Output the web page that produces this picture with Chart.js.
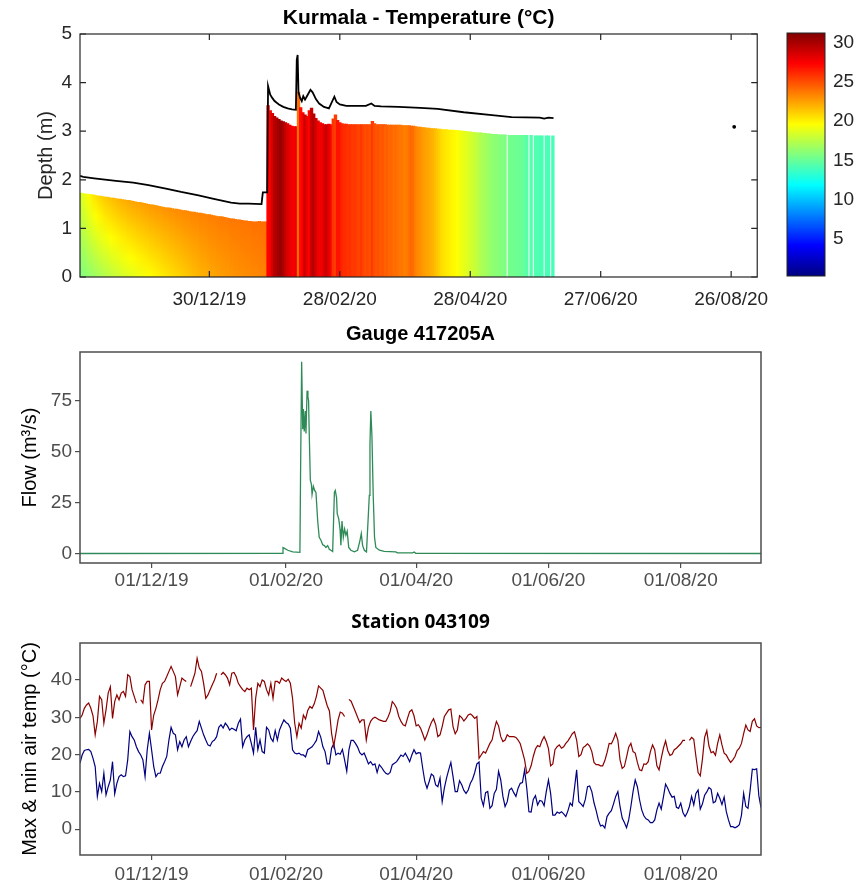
<!DOCTYPE html>
<html>
<head>
<meta charset="utf-8">
<script src="https://cdn.jsdelivr.net/npm/chart.js@4.4.1/dist/chart.umd.min.js"></script>
<style>
  body { margin: 0; background: #fff; }
  #wrap { position: relative; width: 867px; height: 886px; }
  canvas { position: absolute; }
</style>
</head>
<body>
<div id="wrap">
  <canvas id="tempChart" width="780" height="310" style="left:0;top:0"></canvas>
  <canvas id="cbarChart" width="87" height="310" style="left:780px;top:0"></canvas>
  <canvas id="flowChart" width="867" height="290" style="left:0;top:310px"></canvas>
  <canvas id="airChart" width="867" height="286" style="left:0;top:600px"></canvas>
</div>
<script>
// all days are counted from 01/01/2020 = 0

// ---- Kurmala logger: one column per day ----
const heatStart = -61;
const heatTop = [
  1.72,1.71,1.70,1.70,1.69,1.69,1.68,1.67,1.66,
  1.66,1.65,1.64,1.64,1.63,1.62,1.62,1.61,1.60,1.60,
  1.59,1.58,1.57,1.57,1.56,1.55,1.54,1.53,1.53,1.52,
  1.51,1.50,1.49,1.48,1.48,1.47,1.46,1.45,1.44,1.43,
  1.42,1.42,1.41,1.40,1.39,1.39,1.38,1.37,1.36,1.36,
  1.35,1.34,1.33,1.33,1.32,1.31,1.31,1.30,1.29,1.28,
  1.28,1.27,1.26,1.25,1.24,1.24,1.23,1.22,1.21,1.20,
  1.19,1.19,1.18,1.17,1.17,1.16,1.15,1.15,1.14,1.14,
  1.13,1.13,1.13,1.14,1.13,1.13,1.13,
  3.52,3.42,3.36,3.30,3.27,3.24,3.21,3.19,3.17,3.15,
  3.12,3.10,3.09,3.09,3.80,3.48,3.38,3.33,3.30,3.42,
  3.47,3.35,3.26,3.21,3.17,3.15,3.13,3.13,3.14,3.13,
  3.25,3.33,3.22,3.17,3.15,3.14,3.14,3.13,3.13,3.13,
  3.13,3.13,3.13,3.13,3.13,3.13,3.13,3.13,3.20,3.15,
  3.13,3.13,3.13,3.13,3.13,3.12,3.12,3.12,3.12,3.12,
  3.12,3.12,3.11,3.11,3.11,3.11,3.10,3.10,3.09,3.08,
  3.08,3.07,3.07,3.06,3.06,3.05,3.05,3.05,3.04,3.04,
  3.03,3.03,3.03,3.02,3.02,3.02,3.01,3.01,3.00,3.00,
  2.99,2.99,2.98,2.98,2.97,2.97,2.96,2.96,2.96,2.95,
  2.95,2.94,2.94,2.93,2.93,2.93,2.92,2.92,2.92,2.92,
  null,2.91,2.91,2.91,2.91,2.91,2.91,2.91,2.91,2.91,
  null,2.91,null,2.90,2.90,2.90,2.90,null,2.90,2.90,
  null,2.90
];
// temperature at the top of each column
const heatSurfTemp = [
  18.5,18.8,19.1,19.4,19.7,20.0,20.3,20.5,20.7,20.9,
  21.0,21.2,21.3,21.4,21.5,21.6,21.7,21.8,21.9,22.0,
  22.0,22.1,22.2,22.2,22.3,22.3,22.4,22.4,22.5,22.5,
  22.6,22.6,22.7,22.7,22.7,22.8,22.8,22.8,22.9,22.9,
  22.9,23.0,23.0,23.0,23.1,23.1,23.1,23.2,23.2,23.2,
  23.2,23.3,23.3,23.3,23.3,23.4,23.4,23.4,23.4,23.5,
  23.5,23.5,23.5,23.5,23.6,23.6,23.6,23.6,23.6,23.7,
  23.7,23.7,23.7,23.7,23.8,23.8,23.8,23.8,23.8,23.9,
  23.9,23.9,23.9,24.0,24.0,24.0,
  27.3,27.5,28.5,29.5,29.8,30.2,30.5,30.0,29.2,28.5,
  28.2,27.8,27.5,28.0,24.0,27.0,27.5,29.0,28.0,27.3,
  29.0,29.5,28.8,28.0,27.6,27.8,28.5,29.0,28.2,27.5,
  25.8,25.5,26.8,26.8,26.3,26.0,26.0,25.8,25.9,25.6,
  25.7,25.5,25.3,25.7,25.3,25.0,25.2,24.9,25.6,25.0,
  24.8,24.9,24.6,24.8,24.4,24.5,24.2,24.3,24.0,24.1,
  23.9,23.7,23.8,23.5,23.6,23.9,24.2,24.0,23.5,23.2,
  23.0,22.8,22.6,22.4,22.3,22.1,21.9,21.6,21.3,21.0,
  20.7,20.5,20.3,20.2,20.0,19.9,19.8,19.6,19.4,19.1,
  19.0,18.8,18.6,18.4,18.2,18.0,17.8,17.5,17.2,17.0,
  16.9,16.7,16.5,16.3,16.2,16.1,16.0,15.9,15.8,15.7,
  null,15.4,15.3,15.3,15.2,15.2,15.1,15.0,15.0,14.5,
  null,14.4,null,14.3,14.3,14.2,14.2,null,14.1,14.1,
  null,14.0
];
// temperature at the bed while the pool was stratified (later columns are mixed)
const heatBedTemp = [
  15.8,15.9,16.0,16.2,16.3,16.4,16.6,16.7,16.9,17.0,
  17.1,17.3,17.4,17.5,17.7,17.8,17.9,18.0,18.1,18.3,
  18.4,18.5,18.6,18.7,18.8,18.9,19.0,19.1,19.2,19.3,
  19.4,19.5,19.6,19.7,19.8,19.9,20.0,20.1,20.2,20.3,
  20.4,20.5,20.6,20.7,20.8,20.9,21.0,21.1,21.2,21.3,
  21.4,21.5,21.6,21.7,21.8,21.9,22.0,22.0,22.1,22.2,
  22.3,22.3,22.4,22.5,22.5,22.6,22.6,22.7,22.7,22.8,
  22.8,22.9,22.9,23.0,23.0,23.0,23.1,23.1,23.1,23.2,
  23.2,23.2,23.3,23.3,23.3,23.4
];
// water level (black line)
const levelDays = [-61.5,-60,-55,-45,-37,-30,-22,-15,-7,0,8,12,16,22,22.6,24.6,25.0,26,27,28,30,32,34,36,37.8,38.2,38.6,39.0,39.8,40.5,41.2,42,43,44.5,45.5,47,48.5,50.7,53,55.5,56.5,58,61,70,72.5,74,77,85,95,103,115,128,137,150,152,154,156.3,157,239.4];
const levelDepth = [2.08,2.06,2.03,1.98,1.94,1.89,1.82,1.75,1.68,1.61,1.53,1.51,1.51,1.50,1.74,1.74,3.93,3.75,3.68,3.62,3.55,3.50,3.47,3.45,3.44,4.47,4.57,3.80,3.68,3.62,3.72,3.65,3.73,3.85,3.80,3.66,3.57,3.50,3.47,3.71,3.60,3.55,3.52,3.52,3.57,3.52,3.51,3.50,3.48,3.46,3.39,3.33,3.29,3.28,3.26,3.28,3.27,null,3.09];
const tempTicks = [-2, 58, 118, 178, 238];
const tempTickLabels = ['30/12/19', '28/02/20', '28/04/20', '27/06/20', '26/08/20'];
const cbarRange = [0.3, 31.2];
const cbarTicks = [5, 10, 15, 20, 25, 30];

// ---- Gauge 417205A ----
const flowDays = [-64,29.2,29.6,30.3,31.8,34.1,37.4,37.7,38.2,38.7,39.0,39.4,39.9,40.2,40.7,41.1,41.4,41.7,42.2,42.7,43.0,43.6,44.2,44.8,45.6,46.3,47.1,47.9,48.7,49.4,50.2,51.0,51.7,52.5,53.3,53.7,54.3,54.6,55.3,55.9,56.3,56.8,57.4,58.0,58.6,59.2,59.9,60.9,62.5,64.0,65.1,65.7,66.3,67.1,68.1,69.4,69.7,70.1,70.6,71.2,71.8,72.4,74.0,76.3,81.6,82.4,89.3,90.1,90.8,250];
const flowValues = [0,0.1,2.9,2.5,1.6,0.8,0.6,39.4,94.2,61,71,60,70,59,80,77,75,59,36,34,29,33,31,30,16,8,6.5,4.3,3.9,3,3.9,2,1.6,1,30,31,27.5,19.6,17,12,4,16,8,12,9,11,3,1.6,0.8,1.6,6.5,9.8,4,1.6,0.8,28.6,53.7,70,58,28.6,8,3,1.6,1.1,0.8,0.3,0.3,0.7,0.1,0];
const dateTicks = [-31, 31, 91, 152, 213];
const dateTickLabels = ['01/12/19', '01/02/20', '01/04/20', '01/06/20', '01/08/20'];
const flowTicks = [0, 25, 50, 75];

// ---- Station 043109: daily max / min air temperature ----
const airStart = -64;
const airMax = [
  29.7,30.6,32.4,33.3,33.8,32.4,30.4,25.3,28.9,35.6,
  34.7,28.4,32.0,36.5,38.2,29.7,34.2,36.0,34.7,36.5,
  36.9,35.6,41.4,40.9,37.4,35.6,33.8,null,34.7,33.8,
  38.7,39.6,39.6,26.6,30.6,32.4,34.7,37.4,39.1,39.6,
  40.9,42.3,43.6,42.3,40.9,36.0,38.2,40.5,40.0,39.6,
  null,38.2,40.0,41.8,45.8,43.2,42.3,39.1,35.1,36.0,
  37.4,38.7,40.0,41.8,null,41.4,42.0,41.4,40.5,38.7,
  41.8,42.0,40.9,39.1,38.2,37.4,36.9,37.8,37.4,37.8,
  26.6,35.1,39.1,38.2,40.0,39.6,37.4,36.0,39.1,35.1,
  39.6,39.6,39.1,40.5,40.0,39.6,40.2,39.1,35.1,28.4,
  24.8,28.4,27.1,30.6,29.5,31.8,32.9,32.4,33.6,35.6,
  38.4,37.8,37.2,35.1,33.1,31.7,25.7,22.3,25.7,29.3,
  31.4,31.1,30.2,null,34.8,34.3,32.9,31.5,30.0,28.6,
  29.3,29.3,23.9,27.3,28.9,29.7,30.0,29.7,29.3,29.1,
  28.9,28.9,30.0,31.5,34.2,33.5,32.4,30.2,28.9,28.0,
  27.7,29.7,31.5,32.0,30.4,27.7,28.0,27.1,25.6,23.9,
  25.3,27.1,28.6,29.6,28.0,24.8,25.3,27.5,30.2,31.1,
  32.0,32.2,27.5,25.6,26.6,30.4,29.9,29.0,29.7,30.6,
  30.9,30.4,29.7,30.2,19.0,19.9,20.8,20.4,21.7,23.0,
  23.9,26.6,28.9,27.7,24.8,23.5,23.9,25.3,24.8,24.8,
  24.8,24.6,23.9,22.9,20.8,18.6,15.0,15.5,17.0,19.5,
  21.5,22.4,22.1,23.7,24.8,23.5,21.6,17.0,17.5,21.3,
  22.1,22.6,21.7,22.1,23.0,23.7,24.6,25.6,26.1,23.9,
  19.5,20.0,21.9,22.3,22.9,22.3,20.8,17.9,17.3,17.3,
  17.0,17.0,18.4,20.5,23.0,22.9,24.1,25.7,23.9,18.6,
  16.3,16.8,19.3,22.0,23.0,20.8,20.4,17.9,15.9,15.7,
  17.5,17.4,18.1,20.8,22.6,21.3,17.0,15.9,19.0,21.7,
  23.7,21.1,19.8,20.1,21.3,21.7,22.3,22.9,23.8,23.8,
  null,23.8,24.6,24.1,19.5,15.2,14.3,18.8,24.6,26.4,
  22.3,20.5,20.8,19.8,23.0,25.3,22.6,20.4,19.9,18.8,
  17.9,18.6,19.5,21.1,21.7,23.0,25.6,27.9,26.6,26.2,
  28.9,29.6,27.7,27.2,27.3
];
const airMin = [
  17.7,19.9,21.1,21.3,21.4,20.8,19.0,16.8,8.8,12.3,
  10.1,15.0,9.2,11.4,13.2,18.1,9.5,12.3,14.1,14.6,
  14.1,14.3,18.6,26.2,24.8,23.9,22.1,20.8,19.9,18.6,
  14.1,21.3,25.7,21.3,16.8,14.1,15.0,15.0,16.8,18.1,
  19.5,23.9,27.3,25.7,25.3,21.3,23.5,22.1,23.9,24.8,
  22.1,23.5,24.8,25.7,26.4,28.9,27.1,25.3,23.9,22.6,
  22.3,23.5,23.9,24.8,27.3,28.0,27.1,28.4,27.7,26.6,
  27.1,26.8,26.4,28.4,29.5,22.1,23.9,24.8,25.3,23.0,
  20.4,27.3,21.3,23.9,20.8,20.4,27.3,26.6,24.4,23.5,
  26.4,23.9,26.6,28.0,29.3,28.6,28.2,27.1,21.3,20.4,
  20.2,20.4,19.9,19.9,19.4,21.3,21.7,22.1,22.9,23.8,
  26.2,24.7,22.1,20.8,17.5,17.5,21.7,22.9,19.9,20.4,
  20.1,21.4,18.6,15.5,21.3,23.8,23.8,23.0,22.0,20.5,
  19.9,20.4,19.0,17.5,18.1,17.2,17.5,15.2,17.3,16.6,
  15.7,15.0,14.7,15.2,17.3,17.7,18.1,19.0,19.9,19.5,
  20.4,19.3,18.1,19.9,21.3,20.2,20.5,20.4,16.4,12.8,
  11.0,12.8,14.8,14.3,11.9,11.4,13.7,7.4,11.0,13.7,
  15.9,17.9,14.1,10.1,10.1,13.0,11.9,10.4,9.6,10.5,
  12.3,13.4,15.2,17.5,18.0,8.3,6.3,9.8,10.1,5.6,
  6.3,9.6,10.7,15.5,13.2,8.8,6.1,7.4,10.5,11.0,
  9.8,8.8,11.0,12.3,12.5,15.9,11.0,4.7,4.6,8.0,
  9.0,6.5,7.7,7.5,6.3,10.1,13.2,9.6,3.8,3.8,
  4.6,4.3,4.7,4.1,3.4,5.0,7.0,6.3,11.0,15.9,
  7.4,6.8,6.1,8.0,11.4,11.6,10.1,7.1,5.0,2.5,
  0.9,1.1,0.3,3.4,4.3,5.0,6.8,8.8,10.1,6.1,
  3.0,1.8,0.4,2.5,6.1,10.1,13.2,11.4,7.9,5.2,
  3.6,2.8,2.5,1.8,1.8,2.5,5.2,7.0,5.4,8.6,
  12.1,11.0,9.6,8.6,8.8,5.9,5.6,7.0,4.5,3.4,
  4.5,6.1,8.8,6.5,9.6,10.5,5.4,6.8,9.1,10.0,
  11.2,10.7,7.1,7.4,9.6,8.3,6.6,8.6,4.7,2.5,
  0.7,0.7,0.4,0.7,1.2,3.8,9.6,6.1,5.6,10.5,
  16.1,16.0,16.2,9.0,5.8
];
const airTicks = [0, 10, 20, 30, 40];

Chart.defaults.font.family = "'Liberation Sans', Arial, sans-serif";
Chart.defaults.animation = false;
Chart.defaults.responsive = false;
Chart.defaults.plugins.legend.display = false;
Chart.defaults.plugins.tooltip.enabled = false;

// MATLAB jet colormap over the colorbar limits
function jet(T) {
  const t = Math.min(1, Math.max(0, (T - cbarRange[0]) / (cbarRange[1] - cbarRange[0])));
  const c = v => Math.round(255 * Math.min(1, Math.max(0, v)));
  return 'rgb(' + c(1.5 - Math.abs(4 * t - 3)) + ',' + c(1.5 - Math.abs(4 * t - 2)) + ',' + c(1.5 - Math.abs(4 * t - 1)) + ')';
}

// frame round the plot area, optionally with MATLAB style inward ticks
const boxPlugin = {
  id: 'box',
  afterDatasetsDraw(chart, args, opts) {
    const { ctx, chartArea: a } = chart;
    ctx.save();
    ctx.strokeStyle = opts.color;
    ctx.lineWidth = opts.width;
    ctx.strokeRect(a.left, a.top, a.right - a.left, a.bottom - a.top);
    if (opts.tickLength) {
      const n = opts.tickLength;
      ctx.beginPath();
      for (const t of chart.scales.x.ticks) {
        const px = chart.scales.x.getPixelForValue(t.value);
        ctx.moveTo(px, a.bottom); ctx.lineTo(px, a.bottom - n);
        ctx.moveTo(px, a.top); ctx.lineTo(px, a.top + n);
      }
      for (const t of chart.scales.y.ticks) {
        const py = chart.scales.y.getPixelForValue(t.value);
        ctx.moveTo(a.left, py); ctx.lineTo(a.left + n, py);
        ctx.moveTo(a.right, py); ctx.lineTo(a.right - n, py);
      }
      ctx.stroke();
    }
    ctx.restore();
  }
};

function columnFill(c) {
  const chart = c.chart;
  const i = c.dataIndex;
  const top = heatTop[i];
  if (!chart.chartArea || top === null) return 'rgba(0,0,0,0)';
  const surf = heatSurfTemp[i];
  const bed = heatBedTemp[i] ?? surf;
  const y = chart.scales.y;
  const g = chart.ctx.createLinearGradient(0, y.getPixelForValue(0), 0, y.getPixelForValue(top));
  for (let k = 0; k <= 4; k++) g.addColorStop(k / 4, jet(bed + (surf - bed) * k / 4));
  return g;
}

// ---------- depth / temperature panel ----------
new Chart(document.getElementById('tempChart'), {
  type: 'bar',
  plugins: [boxPlugin],
  data: {
    datasets: [{
      type: 'line',
      order: 0,
      data: levelDays.map((d, i) => ({ x: d, y: levelDepth[i] })),
      borderColor: '#000',
      backgroundColor: '#000',
      borderWidth: 1.8,
      pointRadius: c => {
        const i = c.dataIndex;
        return levelDepth[i] !== null && levelDepth[i - 1] == null && levelDepth[i + 1] == null ? 1 : 0;
      },
      spanGaps: false
    }, {
      order: 1,
      data: heatTop.map((top, i) => ({ x: heatStart + i, y: top === null ? null : [0, top] })),
      backgroundColor: columnFill,
      borderWidth: 0,
      barPercentage: 1,
      categoryPercentage: 1,
      inflateAmount: 0.6
    }]
  },
  options: {
    layout: { padding: { left: 0, right: 20, top: 0, bottom: 0 } },
    plugins: {
      title: {
        display: true, fullSize: false, text: 'Kurmala - Temperature (°C)', color: '#000',
        font: { size: 21, weight: 'bold' }, padding: { top: 5.4, bottom: 3.4 }
      },
      box: { color: '#262626', width: 1.2, tickLength: 6 }
    },
    scales: {
      x: {
        type: 'linear', offset: false, min: -61.5, max: 250,
        grid: { display: false, drawTicks: false }, border: { display: false },
        afterBuildTicks: s => { s.ticks = tempTicks.map(v => ({ value: v })); },
        afterFit: s => { s.height = 33; },
        ticks: { autoSkip: false, maxRotation: 0, padding: 11, color: '#262626', font: { size: 19 },
          callback: (v, i) => tempTickLabels[i] }
      },
      y: {
        min: 0, max: 5,
        grid: { display: false, drawTicks: false }, border: { display: false },
        afterBuildTicks: s => { s.ticks = [0, 1, 2, 3, 4, 5].map(v => ({ value: v })); },
        afterFit: s => { s.width = 80; },
        ticks: { padding: 8, color: '#262626', font: { size: 19 } },
        title: { display: true, text: 'Depth (m)', color: '#262626', font: { size: 20 }, padding: { top: 34 } }
      }
    }
  }
});

// ---------- colorbar ----------
new Chart(document.getElementById('cbarChart'), {
  type: 'bar',
  plugins: [boxPlugin],
  data: {
    labels: [''],
    datasets: [{
      data: [cbarRange],
      borderWidth: 0,
      barPercentage: 1,
      categoryPercentage: 1,
      backgroundColor: c => {
        const chart = c.chart;
        if (!chart.chartArea) return '#000';
        const y = chart.scales.y;
        const g = chart.ctx.createLinearGradient(0, y.getPixelForValue(cbarRange[0]), 0, y.getPixelForValue(cbarRange[1]));
        [0, 0.125, 0.375, 0.625, 0.875, 1].forEach(t => {
          g.addColorStop(t, jet(cbarRange[0] + t * (cbarRange[1] - cbarRange[0])));
        });
        return g;
      }
    }]
  },
  options: {
    layout: { padding: { left: 7, right: 0, top: 33, bottom: 34 } },
    plugins: { box: { color: '#262626', width: 1, tickLength: 0 } },
    scales: {
      x: { display: false },
      y: {
        position: 'right', min: cbarRange[0], max: cbarRange[1],
        grid: { display: false, drawTicks: false }, border: { display: false },
        afterBuildTicks: s => { s.ticks = cbarTicks.map(v => ({ value: v })); },
        afterFit: s => { s.width = 42; },
        ticks: { padding: 8, color: '#262626', font: { size: 19 } }
      }
    }
  }
});

// shared look of the two lower panels
function lowerScales(yMin, yMax, yTicks, yTitle, xHeight, xPad) {
  const grey = '#4d4d4d';
  return {
    x: {
      type: 'linear', min: -64, max: 250,
      grid: { drawOnChartArea: false, drawTicks: true, tickLength: 5, color: grey, lineWidth: 1.2 },
      border: { display: false },
      afterBuildTicks: s => { s.ticks = dateTicks.map(v => ({ value: v })); },
      afterFit: s => { s.height = xHeight; },
      ticks: { autoSkip: false, maxRotation: 0, padding: xPad, color: grey, font: { size: 19 },
        callback: (v, i) => dateTickLabels[i] }
    },
    y: {
      min: yMin, max: yMax,
      grid: { drawOnChartArea: false, drawTicks: true, tickLength: 5, color: grey, lineWidth: 1.2 },
      border: { display: false },
      afterBuildTicks: s => { s.ticks = yTicks.map(v => ({ value: v })); },
      afterFit: s => { s.width = 80; },
      ticks: { padding: 3, color: grey, font: { size: 19 } },
      title: { display: true, text: yTitle, color: '#000', font: { size: 20 }, padding: { top: 18 } }
    }
  };
}

// ---------- flow panel ----------
new Chart(document.getElementById('flowChart'), {
  type: 'line',
  plugins: [boxPlugin],
  data: {
    datasets: [{
      data: flowDays.map((d, i) => ({ x: d, y: flowValues[i] })),
      borderColor: '#2e8b57',
      borderWidth: 1.3,
      pointRadius: 0
    }]
  },
  options: {
    layout: { padding: { left: 0, right: 106, top: 0, bottom: 0 } },
    plugins: {
      title: {
        display: true, fullSize: false, text: 'Gauge 417205A', color: '#000',
        font: { size: 20, weight: 'bold' }, padding: { top: 12, bottom: 6 }
      },
      box: { color: '#4d4d4d', width: 1.5 }
    },
    scales: lowerScales(-4.66, 99, flowTicks, 'Flow (m³/s)', 37, 1)
  }
});

// ---------- air temperature panel ----------
const airDays = airMax.map((v, i) => airStart + i);
new Chart(document.getElementById('airChart'), {
  type: 'line',
  plugins: [boxPlugin],
  data: {
    datasets: [{
      data: airDays.map((d, i) => ({ x: d, y: airMax[i] })),
      borderColor: '#8b0000',
      borderWidth: 1.2,
      pointRadius: 0,
      spanGaps: false
    }, {
      data: airDays.map((d, i) => ({ x: d, y: airMin[i] })),
      borderColor: '#000080',
      borderWidth: 1.2,
      pointRadius: 0,
      spanGaps: false
    }]
  },
  options: {
    layout: { padding: { left: 0, right: 106, top: 0, bottom: 0 } },
    plugins: {
      title: {
        display: true, fullSize: false, text: 'Station 043109', color: '#000',
        font: { family: "'Open Sans', sans-serif", size: 19, weight: 'bold' }, padding: { top: 11.4, bottom: 8.8 }
      },
      box: { color: '#4d4d4d', width: 1.5 }
    },
    scales: lowerScales(-6.9, 49.9, airTicks, 'Max & min air temp (°C)', 31, 3)
  }
});
</script>
</body>
</html>
